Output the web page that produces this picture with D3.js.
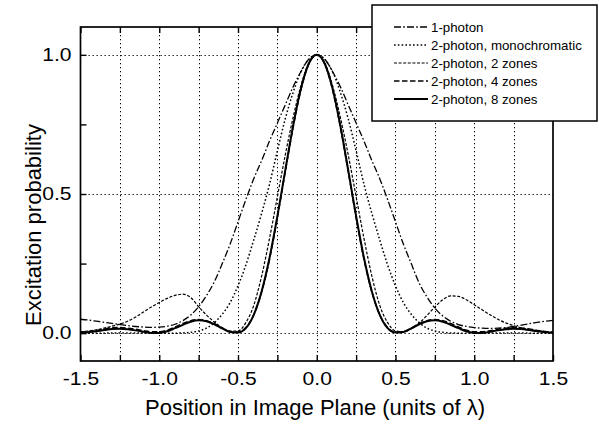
<!DOCTYPE html>
<html>
<head>
<meta charset="utf-8">
<script src="https://cdn.jsdelivr.net/npm/d3@7"></script>
<style>
  body { margin: 0; background: #fff; }
  text { font-family: "Liberation Sans", Arial, sans-serif; fill: #000; }
</style>
</head>
<body>
<script>
// positions along the image plane, units of lambda
var xs = [-1.5,-1.45,-1.4,-1.35,-1.3,-1.25,-1.2,-1.15,-1.1,-1.05,-1.0,-0.95,-0.9,-0.85,-0.8,-0.75,-0.7,-0.65,-0.6,-0.55,-0.5,-0.45,-0.4,-0.35,-0.3,-0.25,-0.2,-0.15,-0.1,-0.05,
  0,
  0.05,0.1,0.15,0.2,0.25,0.3,0.35,0.4,0.45,0.5,0.55,0.6,0.65,0.7,0.75,0.8,0.85,0.9,0.95,1.0,1.05,1.1,1.15,1.2,1.25,1.3,1.35,1.4,1.45,1.5];

var onePhoton = [.050,.047,.043,.039,.035,.031,.027,.024,.022,.021,.022,.025,.032,.045,.065,.095,.135,.185,.25,.32,.40,.48,.555,.62,.69,.755,.82,.885,.94,.985,
  1,
  .985,.94,.885,.82,.755,.69,.62,.555,.48,.40,.32,.25,.18,.13,.09,.062,.043,.031,.024,.02,.018,.017,.018,.02,.024,.029,.034,.039,.043,.046];

var mono = [0,0,0,0,.001,.001,.001,.001,.001,0,0,0,0,.001,.003,.008,.018,.038,.068,.11,.17,.245,.335,.43,.535,.655,.77,.865,.94,.984,
  1,
  .984,.94,.865,.77,.655,.535,.43,.335,.245,.17,.11,.068,.038,.018,.008,.003,.001,0,0,0,0,.001,.001,.001,.001,.001,0,0,0,0];

var twoZones = [.005,.008,.012,.018,.025,.033,.043,.058,.076,.094,.11,.125,.136,.14,.128,.095,.065,.04,.02,.007,.008,.038,.10,.205,.34,.49,.64,.775,.89,.972,
  1,
  .972,.89,.775,.64,.49,.34,.205,.10,.038,.008,.005,.016,.036,.064,.094,.12,.134,.132,.12,.102,.084,.066,.05,.037,.027,.019,.013,.009,.006,.004];

var fourZones = [.003,.006,.01,.015,.019,.02,.018,.014,.009,.005,.005,.011,.022,.035,.045,.049,.045,.034,.018,.006,.004,.02,.066,.148,.265,.415,.58,.74,.875,.968,
  1,
  .968,.875,.74,.58,.415,.265,.148,.066,.02,.004,.006,.018,.034,.045,.049,.045,.035,.022,.011,.005,.005,.009,.014,.018,.02,.019,.015,.01,.006,.003];

var eightZones = [.001,.003,.007,.011,.015,.016,.014,.01,.005,.001,.001,.007,.018,.03,.041,.046,.043,.032,.017,.004,.002,.018,.066,.15,.27,.42,.585,.745,.88,.969,
  1,
  .969,.88,.745,.585,.42,.27,.15,.066,.018,.002,.004,.017,.032,.043,.046,.041,.03,.018,.007,.001,.001,.005,.01,.014,.016,.015,.011,.007,.003,.001];

var seriesNames = ["1-photon", "2-photon, monochromatic", "2-photon, 2 zones", "2-photon, 4 zones", "2-photon, 8 zones"];

var xLabelTicks = [-1.5, -1.0, -0.5, 0.0, 0.5, 1.0, 1.5];
var xMinorTicks = [-1.5,-1.25,-1.0,-0.75,-0.5,-0.25,0,0.25,0.5,0.75,1.0,1.25,1.5];
var xGrid = [-1.25,-1.0,-0.75,-0.5,-0.25,0,0.25,0.5,0.75,1.0,1.25];
var yLabelTicks = [0.0, 0.5, 1.0];
var yMinorTicks = [0, 0.25, 0.5, 0.75, 1.0];

var W = 599, H = 424;
var mL = 80.5, mR = 553, mT = 27, mB = 361;

var x = d3.scaleLinear().domain([-1.5, 1.5]).range([mL, mR]);
var y = d3.scaleLinear().domain([-0.1, 1.1]).range([mB, mT]);

var svg = d3.select("body").append("svg")
  .attr("width", W)
  .attr("height", H);

svg.append("rect").attr("width", W).attr("height", H).attr("fill", "#fff");

// dotted grid
var grid = svg.append("g").attr("stroke", "#000").attr("stroke-width", 1).attr("stroke-dasharray", "1.3,2.7");
grid.selectAll(".gx").data(xGrid).enter().append("line")
  .attr("x1", function(d) { return Math.round(x(d)) + 0.5; })
  .attr("x2", function(d) { return Math.round(x(d)) + 0.5; })
  .attr("y1", mT).attr("y2", mB);
grid.selectAll(".gy").data(yLabelTicks).enter().append("line")
  .attr("y1", function(d) { return Math.round(y(d)) + 0.5; })
  .attr("y2", function(d) { return Math.round(y(d)) + 0.5; })
  .attr("x1", mL).attr("x2", mR);

// curves
var styles = [
  { dash: "7,2.2,1.6,2.2", w: 1.3 },
  { dash: "1.6,2.2", w: 1.5 },
  { dash: "3,1.6", w: 1.2 },
  { dash: "5.5,2.5", w: 1.5 },
  { dash: null, w: 2 }
];
var allSeries = [onePhoton, mono, twoZones, fourZones, eightZones];

var line = d3.line()
  .x(function(d) { return x(d[0]); })
  .y(function(d) { return y(d[1]); })
  .curve(d3.curveMonotoneX);

var curves = svg.append("g").attr("fill", "none").attr("stroke", "#000");
allSeries.forEach(function(vals, i) {
  var pts = xs.map(function(v, j) { return [v, vals[j]]; });
  curves.append("path")
    .datum(pts)
    .attr("d", line)
    .attr("stroke-width", styles[i].w)
    .attr("stroke-dasharray", styles[i].dash);
});

// frame
svg.append("rect")
  .attr("x", mL).attr("y", mT)
  .attr("width", mR - mL).attr("height", mB - mT)
  .attr("fill", "none").attr("stroke", "#000").attr("stroke-width", 1.7);

// inward ticks
var tb = svg.append("g").attr("transform", "translate(0," + mB + ")")
  .call(d3.axisBottom(x).tickValues(xMinorTicks).tickSize(-6).tickFormat(""));
var tt = svg.append("g").attr("transform", "translate(0," + mT + ")")
  .call(d3.axisTop(x).tickValues(xMinorTicks).tickSize(-6).tickFormat(""));
var tl = svg.append("g").attr("transform", "translate(" + mL + ",0)")
  .call(d3.axisLeft(y).tickValues(yMinorTicks).tickSize(-6).tickFormat(""));
[tb, tt, tl].forEach(function(g) {
  g.select(".domain").remove();
  g.selectAll("line").attr("stroke-width", 1.4);
});

// tick labels, a little wider than the plain font like the scanned figure
function widen(sel) {
  sel.style("font-size", "18px").style("font-family", "Liberation Sans, Arial, sans-serif")
    .each(function() {
      var w = this.getComputedTextLength();
      d3.select(this).attr("textLength", w * 1.17).attr("lengthAdjust", "spacingAndGlyphs");
    });
}

var xl = svg.append("g").attr("transform", "translate(0," + mB + ")")
  .call(d3.axisBottom(x).tickValues(xLabelTicks).tickSize(0).tickPadding(11)
    .tickFormat(function(d) { return d.toFixed(1); }));
xl.select(".domain").remove();
widen(xl.selectAll("text"));

var yl = svg.append("g").attr("transform", "translate(" + mL + ",0)")
  .call(d3.axisLeft(y).tickValues(yLabelTicks).tickSize(0).tickPadding(9)
    .tickFormat(function(d) { return d.toFixed(1); }));
yl.select(".domain").remove();
widen(yl.selectAll("text"));

// axis titles
svg.append("text")
  .attr("x", 315)
  .attr("y", 415)
  .attr("text-anchor", "middle")
  .style("font-size", "22px")
  .text("Position in Image Plane (units of \u03bb)");

svg.append("text")
  .attr("transform", "translate(41," + 225 + ") rotate(-90)")
  .attr("text-anchor", "middle")
  .style("font-size", "22px")
  .text("Excitation probability");

// legend
var lg = svg.append("g");
lg.append("rect")
  .attr("x", 372).attr("y", 5)
  .attr("width", 225).attr("height", 116)
  .attr("fill", "#fff").attr("stroke", "#000").attr("stroke-width", 1.5);

seriesNames.forEach(function(name, i) {
  var ly = 27 + i * 18;
  lg.append("line")
    .attr("x1", 394).attr("x2", 428)
    .attr("y1", ly).attr("y2", ly)
    .attr("stroke", "#000")
    .attr("stroke-width", styles[i].w)
    .attr("stroke-dasharray", styles[i].dash);
  lg.append("text")
    .attr("x", 431).attr("y", ly + 4.5)
    .style("font-size", "13.3px")
    .text(name);
});
</script>
</body>
</html>
